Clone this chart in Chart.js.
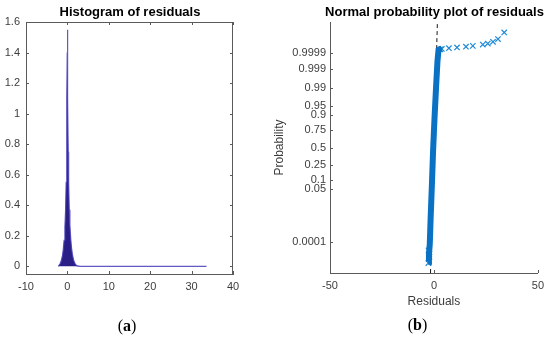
<!DOCTYPE html>
<html>
<head>
<meta charset="utf-8">
<script src="https://cdn.jsdelivr.net/npm/chart.js@4.4.1/dist/chart.umd.min.js"></script>
<style>
  html, body { margin: 0; padding: 0; background: #ffffff; }
  body { width: 550px; height: 337px; position: relative; overflow: hidden; }
  canvas { position: absolute; top: 0; }
  #histCanvas { left: 0; }
  #probCanvas { left: 260px; }
</style>
</head>
<body>
<canvas id="histCanvas" width="275" height="337"></canvas>
<canvas id="probCanvas" width="290" height="337"></canvas>
<script>
// ---------- Data ----------
// (a) density estimate of the residuals
const densX = [-2.2, -1.8, -1.5, -1.2, -1.0, -0.8, -0.6, -0.45, -0.3, -0.2, -0.1, -0.04, 0, 0.04, 0.1, 0.2, 0.3, 0.45, 0.6, 0.8, 1.0, 1.2, 1.5, 1.8, 2.2, 3.0, 33.6];
const densY = [0, 0.015, 0.035, 0.07, 0.11, 0.17, 0.26, 0.36, 0.55, 0.75, 1.1, 1.4, 1.55, 1.4, 1.1, 0.75, 0.55, 0.37, 0.27, 0.18, 0.12, 0.08, 0.04, 0.02, 0.005, 0, 0];
const histXTicks = [-10, 0, 10, 20, 30, 40];
const histYTicks = [0, 0.2, 0.4, 0.6, 0.8, 1, 1.2, 1.4, 1.6];

// (b) normal probability plot: residual vs normal quantile
const bandR = [-2.8, -2.4, -2.0, -1.6, -1.0, -0.4, 0.3, 1.1, 1.7, 2.2, 3.0, 3.8];
const bandQ = [-4.5, -4.2, -3.8, -2.8, -1.5, -0.1, 1.2, 2.5, 3.4, 3.84, 3.87, 3.89];
const tailR = [-2.6, -2.2, -2.1, -2.7, 3.0, 3.8, 7.2, 11.1, 15.4, 18.7, 23.5, 25.9, 28.4, 30.8, 33.8];
const tailQ = [-4.05, -4.2, -4.3, -4.55, 3.86, 3.88, 3.91, 3.94, 3.97, 4.0, 4.05, 4.09, 4.16, 4.27, 4.53];
const refR = [-1.66, 1.66];
const refQ = [-4.94, 4.94];
const probTicks = [0.0001, 0.05, 0.1, 0.25, 0.5, 0.75, 0.9, 0.95, 0.99, 0.999, 0.9999];
const probLabels = ['0.0001', '0.05', '0.1', '0.25', '0.5', '0.75', '0.9', '0.95', '0.99', '0.999', '0.9999'];
const probXTicks = [-50, 0, 50];

// ---------- helpers ----------
function norminv(p) {
  const a = [-3.969683028665376e+01, 2.209460984245205e+02, -2.759285104469687e+02, 1.383577518672690e+02, -3.066479806614716e+01, 2.506628277830197e+00];
  const b = [-5.447609879822406e+01, 1.615858368580409e+02, -1.556989798598866e+02, 6.680131188771972e+01, -1.328068155288572e+01];
  const c = [-7.784894002430293e-03, -3.223964580411365e-01, -2.400758277161838e+00, -2.549732539343734e+00, 4.374664141464968e+00, 2.938163982698783e+00];
  const d = [7.784695709041462e-03, 3.224671290700398e-01, 2.445134137142996e+00, 3.754408661907416e+00];
  const pl = 0.02425, ph = 1 - pl;
  let q, r;
  if (p < pl) {
    q = Math.sqrt(-2 * Math.log(p));
    return (((((c[0]*q+c[1])*q+c[2])*q+c[3])*q+c[4])*q+c[5]) / ((((d[0]*q+d[1])*q+d[2])*q+d[3])*q+1);
  }
  if (p <= ph) {
    q = p - 0.5; r = q * q;
    return (((((a[0]*r+a[1])*r+a[2])*r+a[3])*r+a[4])*r+a[5])*q / (((((b[0]*r+b[1])*r+b[2])*r+b[3])*r+b[4])*r+1);
  }
  q = Math.sqrt(-2 * Math.log(1 - p));
  return -(((((c[0]*q+c[1])*q+c[2])*q+c[3])*q+c[4])*q+c[5]) / ((((d[0]*q+d[1])*q+d[2])*q+d[3])*q+1);
}
const zip = (xs, ys) => xs.map((v, i) => ({ x: v, y: ys[i] }));

const AXIS = '#5a5a5a';
const TICKTXT = '#3d3d3d';
const SANS = '"Liberation Sans", Arial, Helvetica, sans-serif';
const SERIF = '"Liberation Serif", "Times New Roman", serif';

// plugin: MATLAB-like inward ticks, optional box, title and caption
const matlabDecor = {
  id: 'matlabDecor',
  afterDraw(chart, args, o) {
    const { ctx, chartArea: a, scales } = chart;
    const x = scales.x, y = scales.y, L = 3;
    ctx.save();
    ctx.strokeStyle = AXIS;
    ctx.lineWidth = 1;
    ctx.beginPath();
    x.ticks.forEach(t => {
      const px = Math.round(x.getPixelForValue(t.value)) + 0.5;
      ctx.moveTo(px, a.bottom); ctx.lineTo(px, a.bottom - L);
      if (o.box) { ctx.moveTo(px, a.top); ctx.lineTo(px, a.top + L); }
    });
    y.ticks.forEach(t => {
      const py = Math.round(y.getPixelForValue(t.value)) + 0.5;
      ctx.moveTo(a.left, py); ctx.lineTo(a.left + L, py);
      if (o.box) { ctx.moveTo(a.right, py); ctx.lineTo(a.right - L, py); }
    });
    if (o.box) {
      ctx.moveTo(a.left, Math.round(a.top) + 0.5); ctx.lineTo(a.right, Math.round(a.top) + 0.5);
      ctx.moveTo(Math.round(a.right) - 0.5, a.top); ctx.lineTo(Math.round(a.right) - 0.5, a.bottom);
    }
    ctx.stroke();
    // title
    ctx.fillStyle = '#000';
    ctx.font = 'bold 13px ' + SANS;
    ctx.textAlign = 'center';
    ctx.textBaseline = 'middle';
    ctx.fillText(o.title, o.titleX, 12);
    // caption "(a)" with bold letter
    ctx.textAlign = 'left';
    const fs = 16;
    ctx.font = fs + 'px ' + SERIF;
    const wo = ctx.measureText('(').width, wc = ctx.measureText(')').width;
    ctx.font = 'bold ' + fs + 'px ' + SERIF;
    const wl = ctx.measureText(o.letter).width;
    let cx = o.capX - (wo + wl + wc) / 2;
    ctx.font = fs + 'px ' + SERIF; ctx.fillText('(', cx, o.capY); cx += wo;
    ctx.font = 'bold ' + fs + 'px ' + SERIF; ctx.fillText(o.letter, cx, o.capY); cx += wl;
    ctx.font = fs + 'px ' + SERIF; ctx.fillText(')', cx, o.capY);
    ctx.restore();
  }
};

// ---------- (a) Histogram / density ----------
new Chart(document.getElementById('histCanvas'), {
  type: 'line',
  data: {
    datasets: [{
      data: zip(densX, densY),
      borderColor: 'rgba(70,60,185,0.85)',
      borderWidth: 1.2,
      backgroundColor: '#2a1f86',
      fill: 'origin',
      pointRadius: 0,
      tension: 0
    }]
  },
  options: {
    responsive: false,
    animation: false,
    devicePixelRatio: 1,
    layout: { padding: { left: 0, right: 42, top: 22, bottom: 0 } },
    plugins: {
      legend: { display: false },
      tooltip: { enabled: false },
      matlabDecor: { box: true, title: 'Histogram of residuals', titleX: 130, letter: 'a', capX: 127, capY: 327 }
    },
    scales: {
      x: {
        type: 'linear', min: -10, max: 40,
        afterFit: s => { s.height = 63; },
        afterBuildTicks: s => { s.ticks = histXTicks.map(v => ({ value: v })); },
        grid: { display: true, drawOnChartArea: false, drawTicks: false },
        border: { display: true, color: AXIS, width: 1 },
        ticks: { padding: 6, color: TICKTXT, font: { family: SANS, size: 11 }, maxRotation: 0, autoSkip: false, callback: v => String(v) }
      },
      y: {
        type: 'linear', min: -0.05, max: 1.6,
        afterFit: s => { s.width = 26; },
        afterBuildTicks: s => { s.ticks = histYTicks.map(v => ({ value: v })); },
        grid: { display: true, drawOnChartArea: false, drawTicks: false },
        border: { display: true, color: AXIS, width: 1 },
        ticks: { padding: 6, color: TICKTXT, font: { family: SANS, size: 11 }, autoSkip: false, callback: v => String(Math.round(v * 10) / 10) }
      }
    }
  },
  plugins: [matlabDecor]
});

// ---------- (b) Normal probability plot ----------
new Chart(document.getElementById('probCanvas'), {
  type: 'line',
  data: {
    datasets: [
      {
        data: zip(bandR, bandQ),
        borderColor: '#0a72c4',
        borderWidth: 6,
        pointRadius: 0,
        fill: false,
        tension: 0,
        order: 1
      },
      {
        data: zip(tailR, tailQ),
        showLine: false,
        pointStyle: 'crossRot',
        pointRadius: 3.8,
        pointBorderWidth: 1.2,
        pointBorderColor: '#1f8ad6',
        pointBackgroundColor: '#1f8ad6',
        order: 2
      },
      {
        data: zip(refR, refQ),
        borderColor: '#1a1a1a',
        borderWidth: 1,
        borderDash: [4, 3],
        pointRadius: 0,
        fill: false,
        order: 3
      }
    ]
  },
  options: {
    responsive: false,
    animation: false,
    devicePixelRatio: 1,
    layout: { padding: { left: 0, right: 12, top: 22, bottom: 0 } },
    plugins: {
      legend: { display: false },
      tooltip: { enabled: false },
      matlabDecor: { box: false, title: 'Normal probability plot of residuals', titleX: 174.5, letter: 'b', capX: 157.5, capY: 326 }
    },
    scales: {
      x: {
        type: 'linear', min: -50, max: 50,
        afterFit: s => { s.height = 64; },
        afterBuildTicks: s => { s.ticks = probXTicks.map(v => ({ value: v })); },
        grid: { display: true, drawOnChartArea: false, drawTicks: false },
        border: { display: true, color: AXIS, width: 1 },
        ticks: { padding: 6, color: TICKTXT, font: { family: SANS, size: 11 }, maxRotation: 0, autoSkip: false, callback: v => String(v) },
        title: { display: true, text: 'Residuals', color: TICKTXT, font: { family: SANS, size: 12 }, padding: { top: 0, bottom: 28.5 } }
      },
      y: {
        type: 'linear', min: -4.94, max: 4.94,
        afterFit: s => { s.width = 70; },
        afterBuildTicks: s => { s.ticks = probTicks.map(p => ({ value: norminv(p) })); },
        grid: { display: true, drawOnChartArea: false, drawTicks: false },
        border: { display: true, color: AXIS, width: 1 },
        ticks: { padding: 4, color: TICKTXT, font: { family: SANS, size: 11 }, autoSkip: false, callback: (v, i) => probLabels[i] },
        title: { display: true, text: 'Probability', color: TICKTXT, font: { family: SANS, size: 12 }, padding: { top: 12, bottom: 0 } }
      }
    }
  },
  plugins: [matlabDecor]
});
</script>
</body>
</html>
